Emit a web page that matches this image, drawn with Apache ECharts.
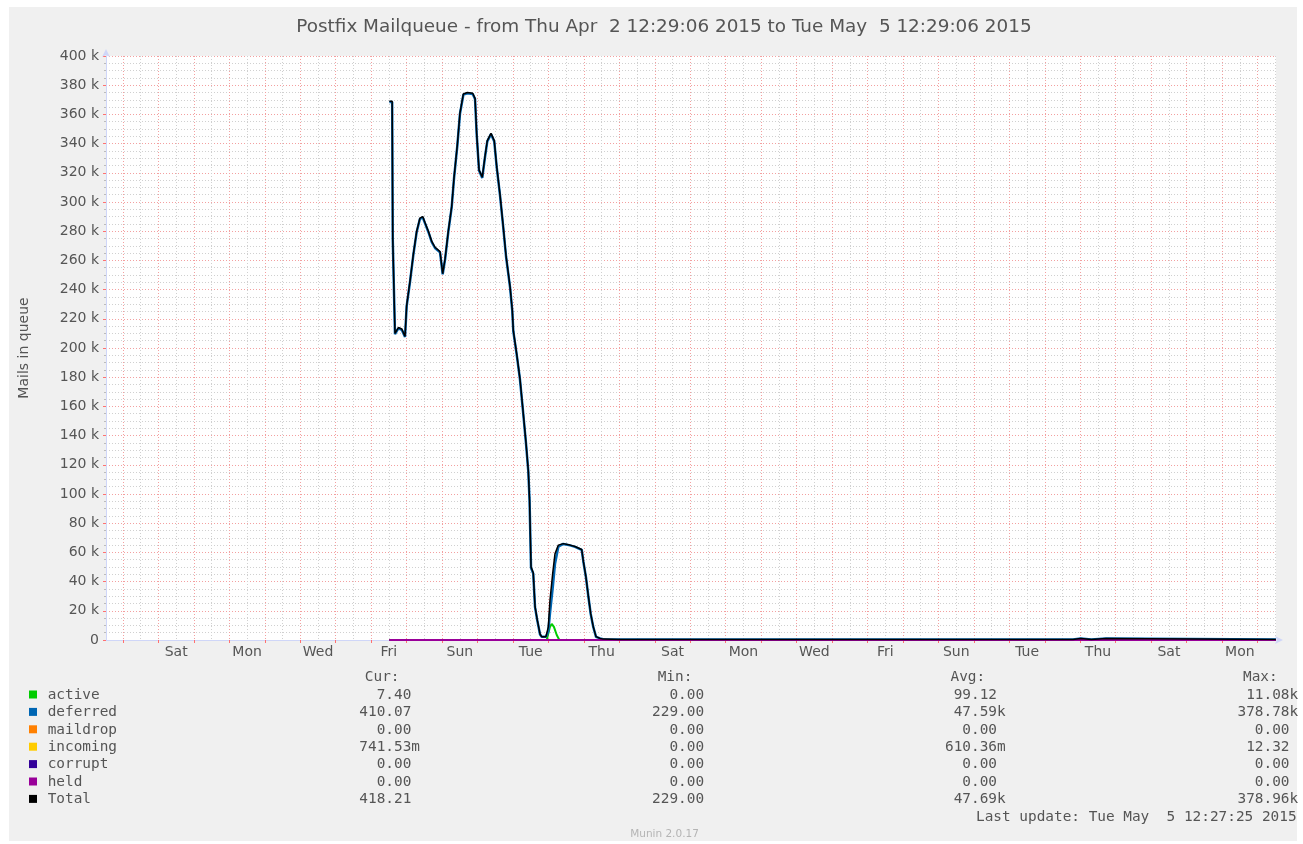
<!DOCTYPE html>
<html><head><meta charset="utf-8">
<script src="https://cdn.jsdelivr.net/npm/echarts@6/dist/echarts.min.js"></script>
<style>
html,body{margin:0;padding:0;background:#fff;}
#panel{position:absolute;left:9px;top:7px;width:1288px;height:834px;background:#f0f0f0;}
#chart{position:absolute;left:0;top:0;width:1303px;height:844px;}
</style></head><body><div id="panel"></div><div id="chart"></div>
<script>
// ---- data (x = hours since Fri Apr 3 2015 00:00) ----
const titleText = 'Postfix Mailqueue - from Thu Apr  2 12:29:06 2015 to Tue May  5 12:29:06 2015';
const X_MIN = -11.515;   // Thu Apr 2 12:29:06
const X_MAX = 780.485;   // Tue May 5 12:29:06
const dayLabels = ['Sat','Mon','Wed','Fri','Sun','Tue','Thu','Sat','Mon','Wed','Fri','Sun','Tue','Thu','Sat','Mon'];
const firstLabelHour = 36; // Sat Apr 4 12:00
const labelStepHours = 48;

const totalData = [
  [180.3,369000],[182.2,369000],[182.6,275000],[183.0,275000],[184.1,210000],[186.4,214000],[188.7,213000],
  [190.9,208000],[192.0,229000],[194.3,246000],[196.5,264000],[198.8,280000],[201.0,289000],[202.9,290000],
  [204.4,286000],[206.7,280000],[209.0,273000],[211.2,269000],[214.6,266000],[216.4,251000],[218.0,261000],
  [220.2,280000],[222.5,297000],[224.1,317000],[226.3,339000],[228.1,361000],[230.4,374000],[233.1,375000],
  [236.7,374500],[238.3,371000],[239.4,347000],[241.0,322000],[243.2,317000],[245.0,331000],[246.6,342000],
  [249.1,347000],[251.3,342000],[253.0,324000],[255.2,305000],[257.4,283000],[259.3,263000],[262.0,242000],
  [263.5,226000],[264.2,212000],[265.35,204000],[266.5,196000],[268.7,179000],[270.6,159000],[272.8,135000],
  [274.35,116000],[275.2,96000],[276.2,50000],[277.7,46000],[278.9,23000],[280.4,14000],[282.3,4000],
  [283.4,2300],[286.3,2300],[287.9,9000],[289.0,27000],[290.9,46000],[292.4,59000],[294.7,65000],
  [298.0,66000],[302.6,65000],[306.0,64000],[310.5,62000],[311.6,54000],[313.4,43000],[315.0,30000],
  [316.6,18000],[318.35,9000],[320.2,2300],[322.9,1100],[325.1,600],[336.4,400],[643.1,400],[643.3,1100],
  [648.3,1100],[648.5,400],[655.5,400],[655.7,1100],[665.4,1100],[665.6,400],[780.4,418]
];
const deferredData = [
  [180.3,368500],[182.2,368500],[182.6,274500],[183.0,274500],[184.1,209500],[186.4,213500],[188.7,212500],
  [190.9,207500],[192.0,228500],[194.3,245500],[196.5,263500],[198.8,279500],[201.0,288500],[202.9,289500],
  [204.4,285500],[206.7,279500],[209.0,272500],[211.2,268500],[214.6,265500],[216.4,250500],[218.0,260500],
  [220.2,279500],[222.5,296500],[224.1,316500],[226.3,338500],[228.1,360500],[230.4,373500],[233.1,374500],
  [236.7,374000],[238.3,370500],[239.4,346500],[241.0,321500],[243.2,316500],[245.0,330500],[246.6,341500],
  [249.1,346500],[251.3,341500],[253.0,323500],[255.2,304500],[257.4,282500],[259.3,262500],[262.0,241500],
  [263.5,225500],[264.2,211500],[265.35,203500],[266.5,195500],[268.7,178500],[270.6,158500],[272.8,134500],
  [274.35,115500],[275.2,95500],[276.2,49500],[277.7,45500],[278.9,22500],[280.4,13500],[282.3,3800],
  [283.4,2200],[286.3,2200],[287.9,6000],[289.0,18000],[290.9,36000],[292.4,52000],[294.7,64000],
  [298.0,65800],[302.6,64800],[306.0,63800],[310.5,61800],[311.6,53800],[313.4,42800],[315.0,29800],
  [316.6,17800],[318.35,8800],[320.2,2200],[322.9,1050],[325.1,580],[336.4,390],[643.1,390],[643.3,1090],
  [648.3,1090],[648.5,390],[655.5,390],[655.7,1090],[665.4,1090],[665.6,390],[780.4,410]
];
const activeData = [
  [180.3,0],[286.8,0],[289.0,9000],[290.2,11000],[291.7,9000],[293.6,3400],[295.3,200],[296.0,0],[780.4,7]
];
const maildropData = [[180.3,0],[780.4,0]];
const incomingData = [[180.3,0],[780.4,0]];
const corruptData = [[180.3,0],[780.4,0]];
const heldData = [[180.3,0],[780.4,0]];

const legendNames = ['active','deferred','maildrop','incoming','corrupt','held','Total'];
const curValues = ['7.40','410.07','0.00','741.53m','0.00','0.00','418.21'];
const minValues = ['0.00','229.00','0.00','0.00','0.00','0.00','229.00'];
const avgValues = ['99.12','47.59k','0.00','610.36m','0.00','0.00','47.69k'];
const maxValues = ['11.08k','378.78k','0.00','12.32','0.00','0.00','378.96k'];
const statHeaders = ['Cur:','Min:','Avg:','Max:'];
const lastUpdate = 'Last update: Tue May  5 12:27:25 2015';
const footer = 'Munin 2.0.17';

// ---- styles ----
const palette = ['#00cc00','#0066b3','#ff8000','#ffcc00','#330099','#990099','#000000'];
const FONT = '"DejaVu Sans", "Liberation Sans", sans-serif';
const MONO = '"DejaVu Sans Mono", "Liberation Mono", monospace';
const TXT = '#555555';
const AXIS = '#cfd6f8';
const MGRID = '#f3a0a0';
const GRID = '#d0d0d0';

const midnights = [], noons = [], labelHours = [];
for (let h = 0; h <= X_MAX; h += 24) midnights.push(h);
for (let h = 12; h <= X_MAX; h += 24) noons.push(h);
dayLabels.forEach((d, i) => labelHours.push(firstLabelHour + labelStepHours * i));

// ---- legend table graphics ----
const L = {markerX: 29, nameX: 47.7, rowY0: 695, rowStep: 17.4, headerY: 677.7, cols: [411.3, 704.1, 997, 1289.5]};
const graphics = [];
const statCols = [curValues, minValues, avgValues, maxValues];
statHeaders.forEach((hd, c) => {
  graphics.push({type: 'text', x: L.cols[c] - 11.8, y: L.headerY,
    style: {text: hd, font: '14.4px ' + MONO, fill: TXT, align: 'right', verticalAlign: 'middle'}});
});
legendNames.forEach((name, i) => {
  const y = L.rowY0 + i * L.rowStep;
  graphics.push({type: 'rect', shape: {x: L.markerX, y: y - 4.5, width: 8, height: 8}, style: {fill: palette[i]}});
  graphics.push({type: 'text', x: L.nameX, y: y,
    style: {text: name, font: '14.4px ' + MONO, fill: TXT, align: 'left', verticalAlign: 'middle'}});
  statCols.forEach((vals, c) => {
    const m = /^(.*?)([kmM]?)$/.exec(vals[i]);
    graphics.push({type: 'text', x: L.cols[c], y: y,
      style: {text: m[1], font: '14.4px ' + MONO, fill: TXT, align: 'right', verticalAlign: 'middle'}});
    if (m[2]) graphics.push({type: 'text', x: L.cols[c], y: y,
      style: {text: m[2], font: '14.4px ' + MONO, fill: TXT, align: 'left', verticalAlign: 'middle'}});
  });
});
graphics.push({type: 'text', x: 976, y: 817.7,
  style: {text: lastUpdate, font: '14.4px ' + MONO, fill: TXT, align: 'left', verticalAlign: 'middle'}});
graphics.push({type: 'text', x: 664.5, y: 834,
  style: {text: footer, font: '10.5px ' + FONT, fill: '#b4b4b4', align: 'center', verticalAlign: 'middle'}});
graphics.push({type: 'text', x: 664, y: 27,
  style: {text: titleText, font: '18.4px ' + FONT, fill: TXT, align: 'center', verticalAlign: 'middle'}});

function lineSeries(name, data, idx, width) {
  return {name, type: 'line', data, xAxisIndex: 1, yAxisIndex: 0, showSymbol: false, symbol: 'none',
    lineStyle: {color: palette[idx], width: width}, itemStyle: {color: palette[idx]}, z: 2 + idx, animation: false};
}

const chart = echarts.init(document.getElementById('chart'), null, {renderer: 'canvas'});
chart.setOption({
  animation: false,
  backgroundColor: 'transparent',
  grid: {left: 106, top: 56, width: 1170, height: 584, show: true, backgroundColor: '#ffffff', borderWidth: 0},
  xAxis: [
    { // minor grid at noons
      type: 'value', min: X_MIN, max: X_MAX, position: 'bottom',
      axisLine: {show: false, onZero: false}, axisLabel: {show: false},
      axisTick: {show: false, customValues: noons},
      splitLine: {show: true, lineStyle: {color: GRID, type: [1, 2], width: 1}}
    },
    { // main axis: midnights (major grid) and day labels
      type: 'value', min: X_MIN, max: X_MAX, position: 'bottom',
      axisLine: {show: true, onZero: false, lineStyle: {color: AXIS, width: 1}, symbol: ['none', 'arrow'], symbolSize: [6, 8], symbolOffset: [0, 7]},
      axisTick: {show: true, customValues: midnights, length: 3, lineStyle: {color: '#ff7070'}},
      axisLabel: {show: true, customValues: labelHours, margin: 5, color: TXT, fontSize: 14, fontFamily: FONT,
        formatter: v => dayLabels[Math.round((v - firstLabelHour) / labelStepHours)] || ''},
      splitLine: {show: true, lineStyle: {color: MGRID, type: [1, 2], width: 1}}
    }
  ],
  yAxis: [{
    type: 'value', min: 0, max: 400000, interval: 20000, position: 'left',
    name: 'Mails in queue', nameLocation: 'middle', nameGap: 75, nameRotate: 90,
    nameTextStyle: {color: TXT, fontSize: 14, fontFamily: FONT},
    axisLine: {show: true, onZero: false, lineStyle: {color: AXIS, width: 1}, symbol: ['none', 'arrow'], symbolSize: [6, 8], symbolOffset: [0, 7]},
    axisTick: {show: true, length: 3, lineStyle: {color: '#ff7070'}},
    minorTick: {show: true, splitNumber: 4, length: 2, lineStyle: {color: '#bbbbbb'}},
    axisLabel: {margin: 7, color: TXT, fontSize: 14, fontFamily: FONT,
      formatter: v => v === 0 ? '0' : (v / 1000) + ' k'},
    splitLine: {show: true, lineStyle: {color: MGRID, type: [1, 2], width: 1}},
    minorSplitLine: {show: true, lineStyle: {color: GRID, type: [1, 2], width: 1}}
  }],
  series: [
    lineSeries('active', activeData, 0, 2),
    lineSeries('deferred', deferredData, 1, 2.5),
    lineSeries('maildrop', maildropData, 2, 2),
    lineSeries('incoming', incomingData, 3, 2),
    lineSeries('corrupt', corruptData, 4, 2),
    lineSeries('held', heldData, 5, 2),
    lineSeries('Total', totalData, 6, 1.5)
  ],
  graphic: {elements: graphics}
});
</script></body></html>
